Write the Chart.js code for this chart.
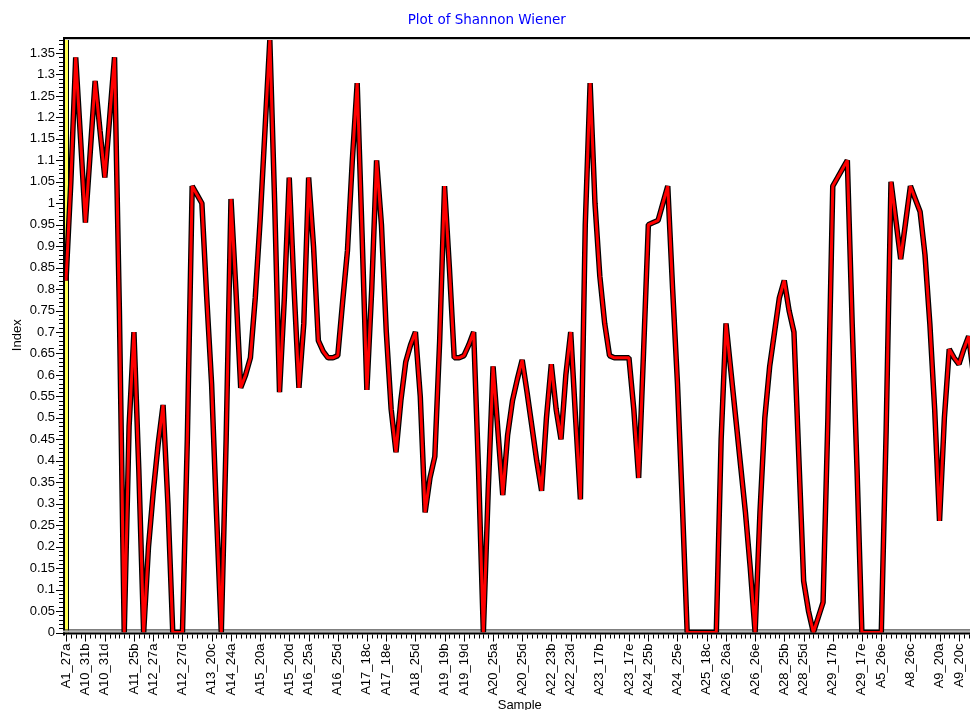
<!DOCTYPE html>
<html>
<head>
<meta charset="utf-8">
<script src="https://cdn.jsdelivr.net/npm/chart.js@4.4.1/dist/chart.umd.min.js"></script>
<style>
html, body { margin: 0; padding: 0; overflow: hidden; background: #fff; }
#wrap { position: relative; width: 980px; height: 720px; }
canvas { display: block; }
</style>
</head>
<body>
<div id="wrap"><canvas id="c" width="980" height="720" style="width:980px;height:720px"></canvas></div>
<script>
// Shannon Wiener index per sample
const values = [
  0.82, 1.05, 1.34, 1.15, 0.955, 1.12, 1.285, 1.17, 1.06, 1.2,
  1.34, 0.75, 0, 0.48, 0.7, 0.38, 0, 0.2, 0.33, 0.44,
  0.53, 0.3, 0, 0, 0, 0.45, 1.04, 1.02, 1.0, 0.78,
  0.58, 0.28, 0, 0.45, 1.01, 0.8, 0.57, 0.6, 0.64, 0.78,
  0.96, 1.17, 1.38, 1.0, 0.56, 0.78, 1.06, 0.8, 0.57, 0.72,
  1.06, 0.9, 0.68, 0.655, 0.64, 0.64, 0.645, 0.77, 0.89, 1.1,
  1.28, 0.93, 0.565, 0.8, 1.1, 0.95, 0.7, 0.52, 0.42, 0.54,
  0.63, 0.67, 0.7, 0.55, 0.28, 0.36, 0.41, 0.68, 1.04, 0.85,
  0.64, 0.64, 0.645, 0.67, 0.7, 0.38, 0, 0.33, 0.62, 0.47,
  0.32, 0.46, 0.54, 0.59, 0.635, 0.56, 0.48, 0.4, 0.33, 0.5,
  0.625, 0.52, 0.45, 0.6, 0.7, 0.5, 0.31, 0.95, 1.28, 1.0,
  0.83, 0.72, 0.645, 0.64, 0.64, 0.64, 0.64, 0.52, 0.36, 0.65,
  0.95, 0.955, 0.96, 1.0, 1.04, 0.8, 0.58, 0.3, 0, 0,
  0, 0, 0, 0, 0, 0.45, 0.72, 0.61, 0.5, 0.39,
  0.28, 0.15, 0, 0.28, 0.5, 0.62, 0.7, 0.78, 0.82, 0.75,
  0.7, 0.41, 0.12, 0.05, 0, 0.035, 0.07, 0.5, 1.04, 1.06,
  1.08, 1.1, 0.72, 0.38, 0, 0, 0, 0, 0, 0.47,
  1.05, 0.96, 0.87, 0.955, 1.04, 1.01, 0.98, 0.88, 0.72, 0.52,
  0.26, 0.5, 0.66, 0.64, 0.625, 0.66, 0.69, 0.6
];

// Sample names that are printed on the x axis, and their positions in the series
const tickIndex = [0, 4, 8, 14, 18, 24, 30, 34, 40, 46, 50, 56, 62, 66, 72, 78, 82, 88,
  94, 100, 104, 110, 116, 120, 126, 132, 136, 142, 148, 152, 158, 164, 168, 174, 180, 184];
const tickLabels = ['A1_27a', 'A10_31b', 'A10_31d', 'A11_25b', 'A12_27a', 'A12_27d', 'A13_20c',
  'A14_24a', 'A15_20a', 'A15_20d', 'A16_25a', 'A16_25d', 'A17_18c', 'A17_18e', 'A18_25d',
  'A19_19b', 'A19_19d', 'A20_25a', 'A20_25d', 'A22_23b', 'A22_23d', 'A23_17b', 'A23_17e',
  'A24_25b', 'A24_25e', 'A25_18c', 'A26_26a', 'A26_26e', 'A28_25b', 'A28_25d', 'A29_17b',
  'A29_17e', 'A5_26e', 'A8_26c', 'A9_20a', 'A9_20c'];

const titleText = 'Plot of Shannon Wiener';
const xTitle = 'Sample';
const yTitle = 'Index';
const yMin = 0;
const yMax = 1.385;
const yStep = 0.05;
const yMinorStep = 0.01;

const categories = values.map((_, i) => {
  const k = tickIndex.indexOf(i);
  return k >= 0 ? tickLabels[k] : '';
});

const FONT = '"Liberation Sans", Arial, sans-serif';

const framePlugin = {
  id: 'frame',
  beforeDatasetsDraw(chart) {
    const { ctx, chartArea: a, scales } = chart;
    ctx.save();
    // yellow wall on the left
    ctx.fillStyle = '#ffff50';
    ctx.fillRect(a.left - 1, a.top, 3, a.bottom - a.top);
    ctx.fillStyle = '#000';
    ctx.fillRect(a.left + 2, a.top, 1, a.bottom - a.top);
    // left axis line
    ctx.fillRect(a.left - 3, a.top - 1, 2, a.bottom - a.top + 4);
    // bottom axis (double line)
    ctx.fillStyle = '#000';
    ctx.fillRect(a.left - 3, a.bottom - 3, chart.width, 1);
    ctx.fillStyle = '#b8b8b8';
    ctx.fillRect(a.left - 3, a.bottom - 2, chart.width, 2);
    ctx.fillStyle = '#000';
    ctx.fillRect(a.left - 3, a.bottom, chart.width, 2);
    // x tick marks
    const xs = scales.x;
    for (let i = 0; i < values.length; i++) {
      const px = Math.round(xs.getPixelForValue(i)) + 0.5;
      const major = tickIndex.indexOf(i) >= 0;
      ctx.fillRect(px - 0.5, a.bottom + 2, 1, major ? 7 : 4);
    }
    // y tick marks
    const ys = scales.y;
    for (let k = 0; k * yMinorStep <= yMax + 1e-9; k++) {
      const v = k * yMinorStep;
      const py = Math.round(ys.getPixelForValue(v));
      const major = k % 5 === 0;
      const len = major ? 7 : 4;
      ctx.fillRect(a.left - 3 - len, py, len, 1);
    }
    ctx.restore();
  },
  afterDatasetsDraw(chart) {
    const { ctx, chartArea: a } = chart;
    ctx.save();
    ctx.fillStyle = '#000';
    ctx.fillRect(a.left - 3, a.top - 1, chart.width, 2);
    ctx.fillStyle = '#c8c8c8';
    ctx.fillRect(a.left - 1, a.top + 1, chart.width, 1);
    ctx.restore();
  }
};

new Chart(document.getElementById('c'), {
  type: 'line',
  data: {
    labels: categories,
    datasets: [
      {
        data: values,
        borderColor: '#ff0000',
        borderWidth: 3,
        pointRadius: 0,
        tension: 0,
        borderJoinStyle: 'bevel',
        order: 0
      },
      {
        data: values,
        borderColor: '#000000',
        borderWidth: 5.5,
        pointRadius: 0,
        tension: 0,
        borderJoinStyle: 'bevel',
        order: 1
      }
    ]
  },
  options: {
    responsive: false,
    animation: false,
    devicePixelRatio: 1,
    layout: { padding: { top: 0, left: 0, right: 6.5, bottom: 0 } },
    plugins: {
      legend: { display: false },
      tooltip: { enabled: false },
      title: {
        display: true,
        text: titleText,
        color: '#0000ff',
        font: { family: '"DejaVu Sans", sans-serif', size: 13.5, weight: 'normal' },
        padding: { top: 12, bottom: 9.8 }
      }
    },
    scales: {
      x: {
        type: 'category',
        offset: false,
        grid: { display: false, drawTicks: false },
        border: { display: false },
        ticks: {
          autoSkip: false,
          minRotation: 90,
          maxRotation: 90,
          padding: 11,
          color: '#000',
          font: { family: FONT, size: 13 }
        },
        title: {
          display: true,
          text: xTitle,
          color: '#000',
          font: { family: FONT, size: 13 },
          padding: { top: 0, bottom: 7 }
        },
        afterFit(s) { s.height = 87.5; s.paddingLeft = 0; s.paddingRight = 0; }
      },
      y: {
        type: 'linear',
        min: yMin,
        max: yMax,
        grid: { display: false, drawTicks: false },
        border: { display: false },
        ticks: {
          stepSize: yStep,
          includeBounds: false,
          padding: 11,
          color: '#000',
          font: { family: FONT, size: 13 },
          callback: v => String(+v.toFixed(2))
        },
        title: {
          display: true,
          text: yTitle,
          color: '#000',
          font: { family: FONT, size: 13 },
          padding: { top: 10, bottom: 0 }
        },
        afterFit(s) { s.width = 66; }
      }
    }
  },
  plugins: [framePlugin]
});
</script>
</body>
</html>
